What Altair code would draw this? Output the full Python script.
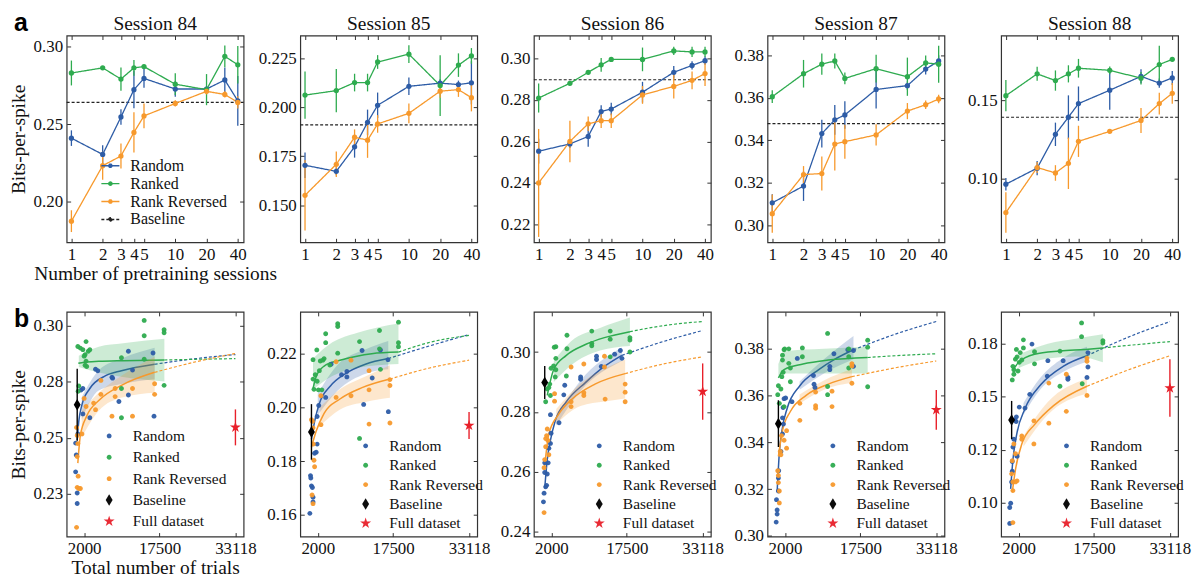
import altair as alt
import pandas as pd

# ---------------- top row: bits-per-spike vs number of pretraining sessions
top_x = [1, 2, 3, 4, 5, 10, 20, 30, 40]
top_xticks = [1, 2, 3, 4, 5, 10, 20, 40]
sessions = [84, 85, 86, 87, 88]

top84_random = [0.241, 0.2305, 0.2546, 0.2722, 0.2794, 0.2726, 0.2726, 0.2784, 0.265]
top84_random_err = [0.005, 0.006, 0.005, 0.012, 0.006, 0.005, 0.002, 0.008, 0.016]
top84_ranked = [0.2829, 0.2862, 0.279, 0.2862, 0.287, 0.2757, 0.2722, 0.2936, 0.2882]
top84_ranked_err = [0.008, 0.001, 0.0075, 0.005, 0.001, 0.007, 0.01, 0.007, 0.012]
top84_reversed = [0.1876, 0.2233, 0.2295, 0.2447, 0.2553, 0.2633, 0.2711, 0.2691, 0.264]
top84_reversed_err = [0.007, 0.009, 0.008, 0.013, 0.008, 0.002, 0.002, 0.002, 0.004]

top85_random = [0.1703, 0.1672, 0.1797, 0.1922, 0.2009, 0.2106, 0.2122, 0.2115, 0.2124]
top85_random_err = [0.0065, 0.002, 0.0055, 0.0065, 0.0065, 0.0045, 0.002, 0.002, 0.011]
top85_ranked = [0.2061, 0.2084, 0.2125, 0.2125, 0.223, 0.227, 0.211, 0.2214, 0.2261]
top85_ranked_err = [0.012, 0.011, 0.0045, 0.0045, 0.0035, 0.0045, 0.0155, 0.006, 0.004]
top85_reversed = [0.155, 0.1708, 0.1846, 0.1831, 0.1914, 0.1968, 0.2081, 0.2089, 0.2048]
top85_reversed_err = [0.018, 0.0065, 0.004, 0.009, 0.0045, 0.005, 0.0033, 0.0037, 0.007]

top86_random = [0.2553, 0.2588, 0.2624, 0.2744, 0.2756, 0.2837, 0.2933, 0.2966, 0.2989]
top86_random_err = [0.006, 0.002, 0.005, 0.003, 0.003, 0.005, 0.003, 0.002, 0.002]
top86_ranked = [0.2809, 0.288, 0.2933, 0.2969, 0.2995, 0.2995, 0.3036, 0.3031, 0.3031]
top86_ranked_err = [0.007, 0.001, 0.001, 0.0033, 0.001, 0.0057, 0.002, 0.0025, 0.0025]
top86_reversed = [0.24, 0.26, 0.2685, 0.27, 0.27, 0.2824, 0.2865, 0.2894, 0.2927]
top86_reversed_err = [0.026, 0.01, 0.0035, 0.0035, 0.0035, 0.0043, 0.0058, 0.0043, 0.006]

top87_random = [0.3106, 0.3185, 0.3432, 0.3497, 0.352, 0.364, 0.3658, 0.3736, 0.3774]
top87_random_err = [0.004, 0.007, 0.0065, 0.007, 0.0065, 0.009, 0.002, 0.0025, 0.0027]
top87_ranked = [0.3606, 0.3714, 0.3759, 0.3774, 0.3692, 0.3738, 0.37, 0.3765, 0.3759]
top87_ranked_err = [0.003, 0.0065, 0.005, 0.0035, 0.0028, 0.0065, 0.009, 0.0035, 0.0087]
top87_reversed = [0.3055, 0.3239, 0.3244, 0.3383, 0.3394, 0.3426, 0.3538, 0.3568, 0.3595]
top87_reversed_err = [0.009, 0.004, 0.008, 0.0125, 0.008, 0.005, 0.0038, 0.002, 0.002]

top88_random = [0.0963, 0.1066, 0.1283, 0.1393, 0.148, 0.1566, 0.1655, 0.1612, 0.1645]
top88_random_err = [0.004, 0.0045, 0.0075, 0.014, 0.011, 0.0125, 0.0045, 0.003, 0.0045]
top88_ranked = [0.1531, 0.1671, 0.1628, 0.1671, 0.1707, 0.1694, 0.1643, 0.1731, 0.1764]
top88_ranked_err = [0.01, 0.0045, 0.0065, 0.0055, 0.006, 0.0025, 0.004, 0.012, 0.001]
top88_reversed = [0.0781, 0.107, 0.1035, 0.1097, 0.1238, 0.1302, 0.1372, 0.148, 0.1546]
top88_reversed_err = [0.013, 0.0035, 0.005, 0.0165, 0.01, 0.001, 0.008, 0.007, 0.0067]

baseline_top = [0.264, 0.1909, 0.2897, 0.3479, 0.1393]
top_domains = [[0.174, 0.307], [0.131, 0.2365], [0.2114, 0.311], [0.292, 0.3894], [0.059, 0.1917]]
top_yticks = [[0.20, 0.25, 0.30], [0.150, 0.175, 0.200, 0.225], [0.22, 0.24, 0.26, 0.28, 0.30],
              [0.30, 0.32, 0.34, 0.36, 0.38], [0.10, 0.15]]
top_yfmt = [".2f", ".3f", ".2f", ".2f", ".2f"]

# ---------------- bottom row: bits-per-spike vs total number of trials
bot_xticks = [2000, 17500, 33118]
bot_domains = [[0.206, 0.306], [0.152, 0.2353], [0.2384, 0.3134], [0.2997, 0.3958], [0.084, 0.19]]
bot_yticks = [[0.225, 0.25, 0.275, 0.30], [0.16, 0.18, 0.20, 0.22], [0.24, 0.26, 0.28, 0.30],
              [0.30, 0.32, 0.34, 0.36, 0.38], [0.10, 0.125, 0.15, 0.175]]
bot_ylabels = [["0.23", "0.25", "0.28", "0.30"], ["0.16", "0.18", "0.20", "0.22"],
               ["0.24", "0.26", "0.28", "0.30"], ["0.30", "0.32", "0.34", "0.36", "0.38"],
               ["0.10", "0.12", "0.15", "0.18"]]
base_trials = [570, 700, 630, 640, 560]
base_bps = [0.2647, 0.1908, 0.2898, 0.348, 0.139]
base_err = [0.016, 0.0103, 0.0055, 0.010, 0.009]
full_trials = 33118
full_bps = [0.2546, 0.1932, 0.2868, 0.3539, 0.1541]
full_err = [0.008, 0.005, 0.0094, 0.0085, 0.0136]

# session 84
pts84_random_x = [245, 375, 245, 570, 570, 700, 1350, 1740, 1740, 3170, 4340, 4800, 7720, 7850, 9150, 11100, 11950, 11100, 16170, 16370]
pts84_random_y = [0.2476, 0.2423, 0.2348, 0.2254, 0.2207, 0.2517, 0.2712, 0.2719, 0.2606, 0.2589, 0.2805, 0.2798, 0.2769, 0.2765, 0.2661, 0.2885, 0.2801, 0.269, 0.2877, 0.2596]
pts84_ranked_x = [700, 1220, 1740, 2390, 2845, 3170, 2195, 2000, 2390, 2195, 2520, 895, 765, 9670, 9670, 9670, 14350, 14350, 14350, 18445, 18445, 18445]
pts84_ranked_y = [0.2906, 0.2899, 0.2892, 0.2928, 0.2885, 0.2892, 0.287, 0.2863, 0.2841, 0.2823, 0.2817, 0.273, 0.2707, 0.2856, 0.2719, 0.2589, 0.3022, 0.2954, 0.2849, 0.2981, 0.2967, 0.2733]
pts84_reversed_x = [440, 570, 700, 570, 765, 570, 895, 1220, 440, 1545, 2000, 2390, 3950, 4340, 5445, 5445, 8370, 8370, 7720, 11945, 11945, 16495, 16495]
pts84_reversed_y = [0.2546, 0.251, 0.2474, 0.2416, 0.2329, 0.2279, 0.2274, 0.2274, 0.2101, 0.2517, 0.2675, 0.2639, 0.2654, 0.2625, 0.2755, 0.2693, 0.2719, 0.2683, 0.2596, 0.2719, 0.2596, 0.274, 0.2693]
fit84_random_x = [560, 900, 1550, 3170, 6420, 9670, 16500, 25000, 33118]
fit84_random_y = [0.2488, 0.2574, 0.2647, 0.2719, 0.2776, 0.2798, 0.2827, 0.2852, 0.2870]
fit84_random_end = 16500
fit84_ranked_x = [800, 2000, 5000, 10000, 18500, 25000, 33118]
fit84_ranked_y = [0.2831, 0.2836, 0.2840, 0.2843, 0.2846, 0.2849, 0.2852]
fit84_ranked_end = 18500
fit84_reversed_x = [700, 1220, 2520, 5120, 9670, 16500, 25000, 33118]
fit84_reversed_y = [0.2387, 0.2510, 0.2596, 0.2668, 0.2733, 0.2791, 0.2838, 0.2875]
fit84_reversed_end = 16500
band84_random_x = [1500, 5000, 10000, 16500]
band84_random_lo = [0.258, 0.271, 0.274, 0.276]
band84_random_hi = [0.268, 0.280, 0.2855, 0.290]
band84_ranked_x = [900, 5000, 10000, 18500]
band84_ranked_lo = [0.2815, 0.279, 0.277, 0.275]
band84_ranked_hi = [0.2865, 0.2905, 0.292, 0.294]
band84_reversed_x = [1500, 5000, 10000, 16500]
band84_reversed_lo = [0.250, 0.262, 0.268, 0.270]
band84_reversed_hi = [0.262, 0.270, 0.278, 0.286]

# session 85
pts85_random_x = [372, 503, 568, 698, 893, 1024, 1024, 1349, 1675, 1870, 1870, 2195, 3628, 4734, 6883, 7989, 7989, 11114, 11440, 13197, 14890, 16452, 16517]
pts85_random_y = [0.1606, 0.1746, 0.1737, 0.1708, 0.1702, 0.1666, 0.1648, 0.1829, 0.1833, 0.1863, 0.1965, 0.2006, 0.2036, 0.2159, 0.212, 0.2132, 0.2112, 0.221, 0.201, 0.2108, 0.2212, 0.2176, 0.1983]
pts85_ranked_x = [1024, 1024, 1219, 1479, 1805, 1870, 2130, 2326, 2521, 2846, 3042, 3302, 3628, 3628, 4474, 6101, 6101, 6101, 10593, 10593, 14695, 14695, 14890, 18600, 18600, 18600]
pts85_ranked_y = [0.2176, 0.2104, 0.2066, 0.212, 0.2212, 0.2096, 0.2064, 0.2135, 0.2171, 0.2064, 0.2174, 0.218, 0.2272, 0.2239, 0.2156, 0.22, 0.2309, 0.2299, 0.2243, 0.1884, 0.2284, 0.2216, 0.214, 0.2315, 0.2239, 0.2224]
pts85_reversed_x = [698, 893, 1024, 1089, 1219, 1349, 828, 1024, 2651, 2651, 5776, 5776, 8836, 8836, 12546, 12546, 12546, 16843, 16843, 16843]
pts85_reversed_y = [0.1953, 0.1947, 0.1923, 0.1863, 0.1803, 0.1779, 0.1674, 0.1642, 0.2042, 0.1935, 0.2168, 0.2036, 0.2174, 0.2042, 0.2135, 0.2064, 0.1937, 0.2102, 0.208, 0.1941]
fit85_random_x = [700, 1350, 2330, 4600, 7860, 11800, 16500, 25000, 33118]
fit85_random_y = [0.1881, 0.1947, 0.2013, 0.2078, 0.2126, 0.2159, 0.2180, 0.2227, 0.2269]
fit85_random_end = 16500
fit85_ranked_x = [1020, 1650, 3300, 6560, 9800, 13100, 18600, 25000, 33118]
fit85_ranked_y = [0.2069, 0.2112, 0.2152, 0.2174, 0.2188, 0.2198, 0.2204, 0.2240, 0.2266]
fit85_ranked_end = 18600
fit85_reversed_x = [700, 1680, 3300, 6560, 11100, 16840, 25000, 33118]
fit85_reversed_y = [0.1851, 0.1911, 0.1977, 0.2030, 0.2072, 0.2104, 0.2145, 0.2174]
fit85_reversed_end = 16840
band85_random_x = [2000, 6000, 12000, 16500]
band85_random_lo = [0.197, 0.206, 0.2125, 0.214]
band85_random_hi = [0.205, 0.2155, 0.2215, 0.2245]
band85_ranked_x = [1020, 5000, 10000, 18600]
band85_ranked_lo = [0.2065, 0.2115, 0.2145, 0.216]
band85_ranked_hi = [0.218, 0.224, 0.2275, 0.231]
band85_reversed_x = [2500, 6500, 12000, 16840]
band85_reversed_lo = [0.193, 0.199, 0.202, 0.2035]
band85_reversed_hi = [0.200, 0.2065, 0.2115, 0.2155]

# session 86
pts86_random_x = [365, 496, 627, 627, 823, 1019, 1150, 1346, 1477, 1804, 1935, 1804, 3570, 4551, 4747, 8017, 8017, 11287, 11287, 12268, 15015, 16192, 16519]
pts86_random_y = [0.25, 0.2529, 0.2598, 0.263, 0.255, 0.2555, 0.2593, 0.263, 0.2679, 0.2695, 0.2729, 0.2791, 0.2764, 0.2857, 0.2889, 0.2909, 0.2917, 0.2986, 0.2975, 0.2952, 0.2993, 0.3005, 0.2979]
pts86_ranked_x = [823, 1150, 1477, 1673, 1804, 1935, 2458, 2589, 2916, 2916, 2916, 2785, 5074, 5205, 5205, 10306, 10306, 10306, 14099, 14099, 14099, 18154, 18154, 18154]
pts86_ranked_y = [0.2834, 0.2877, 0.2882, 0.2893, 0.2855, 0.2946, 0.2954, 0.3016, 0.3018, 0.2979, 0.2941, 0.2917, 0.292, 0.3056, 0.3011, 0.307, 0.3029, 0.3021, 0.307, 0.3043, 0.2984, 0.3048, 0.304, 0.30]
pts86_reversed_x = [496, 496, 627, 823, 823, 1019, 1150, 1281, 1477, 2654, 2654, 6055, 6055, 6055, 8671, 8671, 8671, 12922, 13053, 12922, 17173, 17173, 17173]
pts86_reversed_y = [0.2464, 0.2614, 0.2641, 0.2684, 0.2711, 0.2721, 0.2743, 0.2705, 0.2657, 0.2861, 0.2836, 0.295, 0.2834, 0.2818, 0.296, 0.2864, 0.2855, 0.2986, 0.2843, 0.295, 0.2893, 0.2866, 0.2834]
fit86_random_x = [630, 1150, 1800, 2780, 5070, 9000, 12900, 16500, 25000, 33118]
fit86_random_y = [0.2545, 0.2641, 0.2705, 0.2770, 0.2834, 0.2898, 0.2952, 0.2989, 0.3035, 0.3072]
fit86_random_end = 16500
fit86_ranked_x = [1150, 2460, 5070, 9000, 12900, 18150, 25000, 33118]
fit86_ranked_y = [0.2855, 0.2941, 0.2989, 0.3025, 0.3048, 0.3068, 0.3088, 0.3102]
fit86_ranked_end = 18150
fit86_reversed_x = [630, 1480, 3440, 6380, 10960, 17170, 25000, 33118]
fit86_reversed_y = [0.2620, 0.2727, 0.2791, 0.2845, 0.2893, 0.2928, 0.2960, 0.2984]
fit86_reversed_end = 17170
band86_random_x = [3000, 8000, 16500]
band86_random_lo = [0.2755, 0.287, 0.297]
band86_random_hi = [0.2785, 0.2905, 0.3015]
band86_ranked_x = [2500, 6000, 12000, 18150]
band86_ranked_lo = [0.290, 0.2955, 0.3005, 0.302]
band86_ranked_hi = [0.297, 0.3035, 0.308, 0.3115]
band86_reversed_x = [3000, 8000, 13000, 17170]
band86_reversed_lo = [0.276, 0.282, 0.2835, 0.2845]
band86_reversed_hi = [0.281, 0.2895, 0.2945, 0.2975]

# session 87
pts87_random_x = [183, 378, 378, 248, 637, 637, 702, 1156, 1481, 1676, 1481, 1611, 1805, 2130, 3428, 4531, 7841, 7971, 8166, 11216, 11216, 12060, 14915, 16083, 16083]
pts87_random_y = [0.3059, 0.3093, 0.3111, 0.3155, 0.3192, 0.3247, 0.3279, 0.3361, 0.3436, 0.3478, 0.3505, 0.3549, 0.3587, 0.359, 0.3574, 0.3759, 0.3686, 0.3649, 0.3635, 0.3725, 0.3711, 0.3779, 0.3796, 0.3793, 0.3725]
pts87_ranked_x = [507, 637, 832, 1156, 1351, 1611, 1481, 1481, 1805, 1935, 2779, 2779, 3103, 3103, 1805, 5570, 5570, 10762, 10762, 10762, 15110, 15110, 15110, 19004, 19004, 19004]
pts87_ranked_y = [0.3604, 0.3642, 0.3567, 0.3628, 0.3681, 0.37, 0.3752, 0.3773, 0.3796, 0.38, 0.38, 0.3738, 0.3718, 0.3659, 0.3553, 0.3804, 0.3766, 0.3866, 0.3639, 0.3604, 0.38, 0.3766, 0.3718, 0.3837, 0.3807, 0.3638]
pts87_reversed_x = [507, 637, 832, 832, 637, 1026, 1156, 1286, 1805, 2325, 2325, 5050, 5050, 8295, 8295, 8295, 11670, 11670, 15759, 15759, 15759]
pts87_reversed_y = [0.3279, 0.3258, 0.3192, 0.3141, 0.3228, 0.3361, 0.3347, 0.3429, 0.3409, 0.3375, 0.345, 0.3567, 0.3494, 0.3615, 0.3557, 0.3546, 0.3619, 0.3553, 0.3736, 0.3727, 0.3653]
fit87_random_x = [380, 830, 1480, 2450, 5050, 8940, 12190, 16080, 25000, 33118]
fit87_random_y = [0.3189, 0.3354, 0.3464, 0.3546, 0.3642, 0.3711, 0.3755, 0.3796, 0.3865, 0.3917]
fit87_random_end = 16080
fit87_ranked_x = [640, 1800, 5700, 10900, 19000, 26000, 33118]
fit87_ranked_y = [0.3676, 0.3711, 0.3735, 0.3752, 0.3763, 0.3772, 0.3779]
fit87_ranked_end = 19000
fit87_reversed_x = [640, 1480, 3100, 6350, 10890, 15760, 25000, 33118]
fit87_reversed_y = [0.3340, 0.3450, 0.3532, 0.3601, 0.3649, 0.3681, 0.3720, 0.3748]
fit87_reversed_end = 15760
band87_random_x = [5000, 10000, 16080]
band87_random_lo = [0.3625, 0.3695, 0.3755]
band87_random_hi = [0.366, 0.3755, 0.3855]
band87_ranked_x = [640, 2000, 10000, 19000]
band87_ranked_lo = [0.3685, 0.3695, 0.3695, 0.3695]
band87_ranked_hi = [0.3735, 0.379, 0.380, 0.381]
band87_reversed_x = [5000, 10000, 15760]
band87_reversed_lo = [0.3565, 0.3625, 0.3655]
band87_reversed_hi = [0.3605, 0.3665, 0.3715]

# session 88
pts88_random_x = [169, 365, 169, 561, 692, 692, 823, 1019, 1215, 1477, 1542, 1673, 2131, 3308, 4289, 4747, 7886, 8017, 11156, 12137, 12137, 16061, 16257, 16257]
pts88_random_y = [0.0977, 0.0997, 0.0902, 0.1098, 0.1148, 0.1194, 0.1262, 0.1299, 0.139, 0.1383, 0.1405, 0.1219, 0.1451, 0.1446, 0.1511, 0.1748, 0.1597, 0.167, 0.167, 0.1591, 0.1582, 0.1591, 0.1708, 0.164]
pts88_ranked_x = [692, 823, 1019, 1019, 1346, 1542, 1673, 1869, 2131, 2327, 2654, 2981, 2981, 5270, 5270, 10502, 10502, 14949, 14949, 15080, 19331, 19331]
pts88_ranked_y = [0.1579, 0.1643, 0.1627, 0.1606, 0.1677, 0.1723, 0.1688, 0.1621, 0.1662, 0.1708, 0.1673, 0.1768, 0.173, 0.1712, 0.1655, 0.1715, 0.1549, 0.1848, 0.1783, 0.1561, 0.1764, 0.1753]
pts88_reversed_x = [561, 692, 823, 823, 823, 1019, 1346, 1346, 1673, 2654, 2654, 5139, 5139, 8213, 8213, 11810, 11810, 16061, 16061, 16061]
pts88_reversed_y = [0.1136, 0.1198, 0.1098, 0.1057, 0.0906, 0.1277, 0.1231, 0.1098, 0.1103, 0.1299, 0.1315, 0.1386, 0.1277, 0.1564, 0.1375, 0.1606, 0.1431, 0.1682, 0.1667, 0.1506]
fit88_random_x = [360, 820, 1670, 3300, 6580, 11160, 16060, 25000, 33118]
fit88_random_y = [0.1065, 0.1201, 0.1330, 0.1443, 0.1557, 0.1643, 0.1693, 0.1785, 0.1854]
fit88_random_end = 16060
fit88_ranked_x = [820, 2000, 5270, 10500, 15700, 19330, 26000, 33118]
fit88_ranked_y = [0.1625, 0.1662, 0.1700, 0.1715, 0.1723, 0.1730, 0.1745, 0.1760]
fit88_ranked_end = 19330
fit88_reversed_x = [700, 1350, 2650, 5270, 9190, 16060, 25000, 33118]
fit88_reversed_y = [0.1050, 0.1156, 0.1277, 0.1368, 0.1458, 0.1549, 0.1630, 0.1693]
fit88_reversed_end = 16060
band88_random_x = [3000, 6500, 11000, 16060]
band88_random_lo = [0.1415, 0.1535, 0.1615, 0.1665]
band88_random_hi = [0.147, 0.159, 0.168, 0.1735]
band88_ranked_x = [2000, 8000, 14000, 19330]
band88_ranked_lo = [0.1635, 0.168, 0.169, 0.1662]
band88_ranked_hi = [0.170, 0.175, 0.1775, 0.1794]
band88_reversed_x = [3000, 8000, 16060]
band88_reversed_lo = [0.1265, 0.1415, 0.1515]
band88_reversed_hi = [0.1315, 0.1475, 0.1585]

# ---------------- style
FONT = "Liberation Serif"
SERIES = [("random", "Random"), ("ranked", "Ranked"), ("reversed", "Rank Reversed")]
BLUE, GREEN, ORANGE, RED = "#2d5ca6", "#2eab4f", "#f7992c", "#e8202a"
SERIES_COLORS = [BLUE, GREEN, ORANGE]
TOP_NAMES = ["Random", "Ranked", "Rank Reversed", "Baseline"]
TOP_COLORS = [BLUE, GREEN, ORANGE, "#222222"]
BOT_NAMES = ["Random", "Ranked", "Rank Reversed", "Baseline", "Full dataset"]
BOT_COLORS = [BLUE, GREEN, ORANGE, "black", RED]
# all bottom markers share one size; the paths themselves set the relative sizes
SMALL_DOT = "M-0.42,0A0.42,0.42,0,1,1,0.42,0A0.42,0.42,0,1,1,-0.42,0Z"
DIAMOND = "M0,-1L0.6,0L0,1L-0.6,0Z"
STAR = ("M0,-1L0.2245,-0.309L0.951,-0.309L0.363,0.118L0.588,0.809L0,0.382"
        "L-0.588,0.809L-0.363,0.118L-0.951,-0.309L-0.2245,-0.309Z")
MARKER_SIZE = 135
LINE_DOT = "M-1,0L1,0M-0.18,0A0.18,0.18,0,1,1,0.18,0A0.18,0.18,0,1,1,-0.18,0"
W, H_TOP, H_BOT = 178, 208, 226
YEXT = 40


def g(name):
    return globals()[name]


def text_mark(label, x, y, **style):
    return alt.Chart(alt.Data(values=[{"lab": label}])).mark_text(baseline="alphabetic", **style).encode(
        x=alt.value(x), y=alt.value(y), text="lab:N")


def mirror(df, xf, xsc, xticks, yf, ysc, yticks):
    # invisible layer that only carries the inward ticks on the top and right edges
    return alt.Chart(df).mark_point(opacity=0).encode(
        x=alt.X(xf, scale=xsc, axis=alt.Axis(orient="top", values=xticks, labels=False, title=None,
                                             minExtent=0, maxExtent=0)),
        y=alt.Y(yf, scale=ysc, axis=alt.Axis(orient="right", values=yticks, labels=False, title=None,
                                             minExtent=0, maxExtent=0)))


def top_panel(i, s):
    rows = []
    for key, name in SERIES:
        for n, v, e in zip(top_x, g(f"top{s}_{key}"), g(f"top{s}_{key}_err")):
            rows.append({"n": n, "bps": v, "lo": v - e, "hi": v + e, "series": name})
    df = pd.DataFrame(rows)
    base = pd.DataFrame({"bps": [baseline_top[i]], "series": ["Baseline"]})
    first = i == 0

    xsc = alt.Scale(type="log", domain=[0.9, 45.5], nice=False)
    ysc = alt.Scale(domain=top_domains[i], nice=False, zero=False)
    x_axis = alt.X("n:Q", scale=xsc,
                   axis=alt.Axis(values=top_xticks, format="d", labelOverlap=False, labelFlush=False,
                                 title="Number of pretraining sessions" if first else None))
    x = alt.X("n:Q", scale=xsc, axis=None)
    y_axis = alt.Y("bps:Q", scale=ysc,
                   axis=alt.Axis(values=top_yticks[i], format=top_yfmt[i], minExtent=YEXT, maxExtent=YEXT,
                                 title="Bits-per-spike" if first else None))
    cscale = alt.Scale(domain=TOP_NAMES, range=TOP_COLORS)
    dscale = alt.Scale(domain=TOP_NAMES, range=[[1, 0], [1, 0], [1, 0], [3, 2]])
    if first:
        leg = alt.Legend(title=None, orient="none", legendX=34, legendY=121,
                         symbolType=LINE_DOT, symbolSize=330, symbolStrokeWidth=1.4,
                         labelFontSize=16, labelOffset=10, rowPadding=0)
    else:
        leg = None
    color = alt.Color("series:N", scale=cscale, legend=leg)
    dash = alt.StrokeDash("series:N", scale=dscale, legend=leg)

    rule = alt.Chart(base).mark_rule(strokeWidth=1.1).encode(y=y_axis, color=color, strokeDash=dash)
    errs = alt.Chart(df).mark_rule(strokeWidth=1.3).encode(
        x=x_axis, y=alt.Y("lo:Q", scale=ysc, axis=None), y2="hi:Q",
        stroke=alt.Stroke("series:N", scale=cscale, legend=None))
    lines = alt.Chart(df).mark_line(strokeWidth=1.3).encode(
        x=x, y=alt.Y("bps:Q", scale=ysc, axis=None), color=color, strokeDash=dash)
    dots = alt.Chart(df).mark_circle(size=28, opacity=1).encode(
        x=x, y=alt.Y("bps:Q", scale=ysc, axis=None),
        fill=alt.Fill("series:N", scale=cscale, legend=None))
    layers = [rule, errs, lines, dots,
              mirror(df, "n:Q", xsc, top_xticks, "bps:Q", ysc, top_yticks[i]),
              text_mark(f"Session {s}", W / 2, -6, font=FONT, fontSize=19.5, align="center", color="#111111")]
    if first:
        layers.append(text_mark("a", -53, -5, font="Liberation Sans", fontWeight="bold",
                                fontSize=25, align="left", color="black"))
    return alt.layer(*layers).resolve_axis(x="independent", y="independent").properties(
        width=W, height=H_TOP)


def bottom_panel(i, s):
    first = i == 0
    xsc = alt.Scale(domain=[-1600, 34800], nice=False, zero=False)
    ysc = alt.Scale(domain=bot_domains[i], nice=False, zero=False)
    expr = f"{bot_ylabels[i]}[indexof({bot_yticks[i]}, datum.value)]"
    x_axis = alt.X("t:Q", scale=xsc,
                   axis=alt.Axis(values=bot_xticks, format="d", labelFlush=False, labelOverlap=False,
                                 title="Total number of trials" if first else None))
    y_axis = alt.Y("bps:Q", scale=ysc,
                   axis=alt.Axis(values=bot_yticks[i], labelExpr=expr, minExtent=YEXT, maxExtent=YEXT,
                                 title="Bits-per-spike" if first else None))
    x = alt.X("t:Q", scale=xsc, axis=None)

    def y(field):
        return alt.Y(f"{field}:Q", scale=ysc, axis=None)

    layers, pts = [], []
    # confidence bands, fitted curves (solid inside the data, dashed extrapolation)
    for (key, name), col in zip(SERIES, SERIES_COLORS):
        for t, v in zip(g(f"pts{s}_{key}_x"), g(f"pts{s}_{key}_y")):
            pts.append({"t": t, "bps": v, "series": name})
        band = pd.DataFrame({"t": g(f"band{s}_{key}_x"), "lo": g(f"band{s}_{key}_lo"),
                             "hi": g(f"band{s}_{key}_hi")})
        fit = pd.DataFrame({"t": g(f"fit{s}_{key}_x"), "bps": g(f"fit{s}_{key}_y")})
        end = g(f"fit{s}_{key}_end")
        layers.append(alt.Chart(band).mark_area(color=col, opacity=0.24, interpolate="monotone").encode(
            x=x, y=y("lo"), y2="hi:Q"))
        layers.append(alt.Chart(fit[fit.t <= end]).mark_line(color=col, strokeWidth=1.5,
                                                             interpolate="monotone").encode(x=x, y=y("bps")))
        layers.append(alt.Chart(fit[fit.t >= end]).mark_line(color=col, strokeWidth=1.2, strokeDash=[3, 2],
                                                             interpolate="monotone").encode(x=x, y=y("bps")))

    base = pd.DataFrame({"t": [base_trials[i]], "bps": [base_bps[i]], "lo": [base_bps[i] - base_err[i]],
                         "hi": [base_bps[i] + base_err[i]], "series": ["Baseline"]})
    full = pd.DataFrame({"t": [full_trials], "bps": [full_bps[i]], "lo": [full_bps[i] - full_err[i]],
                         "hi": [full_bps[i] + full_err[i]], "series": ["Full dataset"]})
    leg = alt.Legend(title=None, orient="none", legendX=35 if first else 58,
                     legendY=117 if first else 127, labelFontSize=15.5, symbolSize=MARKER_SIZE,
                     labelOffset=16, rowPadding=4.5 if first else 2.5)
    color = alt.Color("series:N", scale=alt.Scale(domain=BOT_NAMES, range=BOT_COLORS), legend=leg)
    shape = alt.Shape("series:N", scale=alt.Scale(domain=BOT_NAMES,
                                                  range=[SMALL_DOT, SMALL_DOT, SMALL_DOT, DIAMOND, STAR]),
                      legend=leg)
    pts = pd.DataFrame(pts)

    layers += [
        alt.Chart(pts).mark_point(filled=True, size=MARKER_SIZE, opacity=0.95).encode(
            x=x_axis, y=y_axis, color=color, shape=shape),
        alt.Chart(base).mark_rule(color="black", strokeWidth=1.4).encode(x=x, y=y("lo"), y2="hi:Q"),
        alt.Chart(base).mark_point(filled=True, size=MARKER_SIZE, opacity=1).encode(
            x=x, y=y("bps"), color=color, shape=shape),
        alt.Chart(full).mark_rule(color=RED, strokeWidth=1.4).encode(x=x, y=y("lo"), y2="hi:Q"),
        alt.Chart(full).mark_point(filled=True, size=MARKER_SIZE, opacity=1).encode(
            x=x, y=y("bps"), color=color, shape=shape),
        mirror(pts, "t:Q", xsc, bot_xticks, "bps:Q", ysc, bot_yticks[i]),
    ]
    if first:
        layers.append(text_mark("b", -53, 15, font="Liberation Sans", fontWeight="bold",
                                fontSize=25, align="left", color="black"))
    return alt.layer(*layers).resolve_axis(x="independent", y="independent").properties(
        width=W, height=H_BOT)


def independent(c):
    return c.resolve_scale(color="independent", fill="independent", stroke="independent",
                           shape="independent", strokeDash="independent").resolve_legend(
        color="independent", shape="independent", strokeDash="independent")


STEP = 57  # gap between panels, holds the next panel's tick labels
top_row = independent(alt.hconcat(*[top_panel(i, s) for i, s in enumerate(sessions)],
                                  spacing=STEP, bounds="flush"))
bot_row = independent(alt.hconcat(*[bottom_panel(i, s) for i, s in enumerate(sessions)],
                                  spacing=STEP, bounds="flush"))

chart = independent(alt.vconcat(top_row, bot_row, spacing=22)).properties(
    padding=0
).configure(
    font=FONT
).configure_view(
    stroke="#333333", strokeWidth=1.2
).configure_axis(
    grid=False, domain=False, tickSize=4, offset=-4, tickColor="#333333", tickWidth=1,
    labelFont=FONT, labelFontSize=17, labelColor="#111111", labelPadding=4,
    titleFont=FONT, titleFontSize=19.5, titleFontWeight="normal", titleColor="#111111", titlePadding=2
).configure_legend(
    labelFont=FONT, labelColor="#111111"
)

chart.save("out.html", embed_options={"renderer": "svg", "actions": False})
